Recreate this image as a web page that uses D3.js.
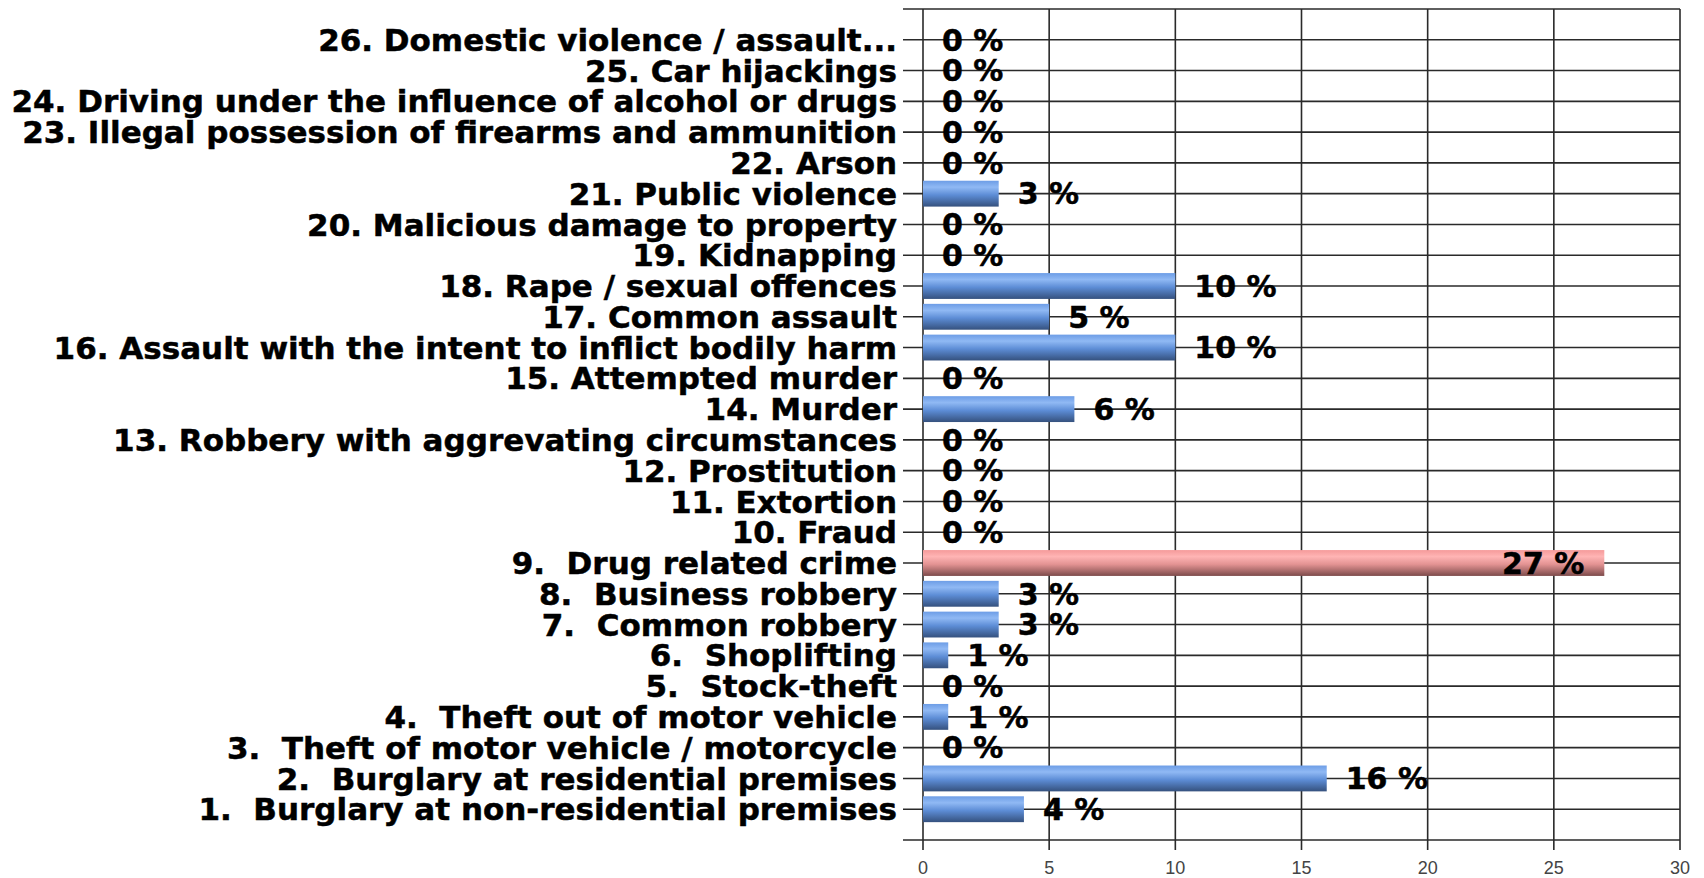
<!DOCTYPE html>
<html>
<head>
  <meta charset="utf-8">
  <title>Crime categories</title>
  <script src="https://d3js.org/d3.v7.min.js" charset="utf-8"></script>
  <style>
    body { margin: 0; background: #fff; }
  </style>
</head>
<body>
<script>
var w = 1704;
var h = 878;

// bottom to top
var categories = [
  "1.  Burglary at non-residential premises",
  "2.  Burglary at residential premises",
  "3.  Theft of motor vehicle / motorcycle",
  "4.  Theft out of motor vehicle",
  "5.  Stock-theft",
  "6.  Shoplifting",
  "7.  Common robbery",
  "8.  Business robbery",
  "9.  Drug related crime",
  "10. Fraud",
  "11. Extortion",
  "12. Prostitution",
  "13. Robbery with aggrevating circumstances",
  "14. Murder",
  "15. Attempted murder",
  "16. Assault with the intent to inflict bodily harm",
  "17. Common assault",
  "18. Rape / sexual offences",
  "19. Kidnapping",
  "20. Malicious damage to property",
  "21. Public violence",
  "22. Arson",
  "23. Illegal possession of firearms and ammunition",
  "24. Driving under the influence of alcohol or drugs",
  "25. Car hijackings",
  "26. Domestic violence / assault..."
];
var values = [4, 16, 0, 1, 0, 1, 3, 3, 27, 0, 0, 0, 0, 6, 0, 10, 5, 10, 0, 0, 3, 0, 0, 0, 0, 0];
var highlight = "9.  Drug related crime";
var xTicks = [0, 5, 10, 15, 20, 25, 30];

var plotL = 923, plotR = 1680, plotT = 9, plotB = 840;

var svg = d3.select("body")
            .append("svg")
            .attr("width", w)
            .attr("height", h);

var x = d3.scaleLinear().domain([0, 30]).range([plotL, plotR]);
var y = d3.scalePoint().domain(categories).range([plotB, plotT]).padding(1);
var barH = y.step() * 0.84;

// gradients
var defs = svg.append("defs");
function grad(id, stops) {
  var g = defs.append("linearGradient").attr("id", id)
    .attr("x1", 0).attr("y1", 0).attr("x2", 0).attr("y2", 1);
  stops.forEach(function (s) {
    g.append("stop").attr("offset", s[0]).attr("stop-color", s[1]);
  });
}
grad("blue", [[0, "#6d9de6"], [0.25, "#90b9f4"], [0.55, "#5d8dd6"], [1, "#35517e"]]);
grad("red", [[0, "#f59a9a"], [0.25, "#ffb4b4"], [0.55, "#e39393"], [1, "#7d4b4b"]]);

var lineColor = "#2a2a2a";

// horizontal grid lines at category centers plus top and bottom
svg.selectAll("line.hgrid")
    .data(categories)
    .enter()
    .append("line")
    .attr("class", "hgrid")
    .attr("x1", plotL - 20).attr("x2", plotR)
    .attr("y1", function (d) { return y(d); })
    .attr("y2", function (d) { return y(d); })
    .attr("stroke", lineColor).attr("stroke-width", 1.6);

svg.selectAll("line.edge")
    .data([plotT, plotB])
    .enter()
    .append("line")
    .attr("class", "edge")
    .attr("x1", plotL - 20).attr("x2", plotR)
    .attr("y1", function (d) { return d; })
    .attr("y2", function (d) { return d; })
    .attr("stroke", lineColor).attr("stroke-width", 1.6);

// vertical grid lines
svg.selectAll("line.vgrid")
    .data(xTicks)
    .enter()
    .append("line")
    .attr("class", "vgrid")
    .attr("x1", function (d) { return x(d); })
    .attr("x2", function (d) { return x(d); })
    .attr("y1", plotT).attr("y2", plotB + 10)
    .attr("stroke", lineColor).attr("stroke-width", 1.6);

// x tick labels
svg.selectAll("text.xt")
    .data(xTicks)
    .enter()
    .append("text")
    .attr("class", "xt")
    .text(function (d) { return d; })
    .attr("x", function (d) { return x(d); })
    .attr("y", 874)
    .attr("text-anchor", "middle")
    .attr("font-family", "'Liberation Sans Narrow', 'Liberation Sans', sans-serif")
    .attr("font-size", 18)
    .attr("fill", "#444");

// bars
svg.selectAll("rect.bar")
    .data(categories)
    .enter()
    .append("rect")
    .attr("class", "bar")
    .attr("x", x(0))
    .attr("y", function (d) { return y(d) - barH / 2; })
    .attr("width", function (d, i) { return x(values[i]) - x(0); })
    .attr("height", barH)
    .attr("fill", function (d) { return d === highlight ? "url(#red)" : "url(#blue)"; });

// category labels
svg.selectAll("text.cat")
    .data(categories)
    .enter()
    .append("text")
    .attr("class", "cat")
    .text(function (d) { return d; })
    .attr("x", 897)
    .attr("y", function (d) { return y(d); })
    .attr("dy", "0.36em")
    .attr("text-anchor", "end")
    .attr("xml:space", "preserve")
    .style("white-space", "pre")
    .attr("font-family", "'DejaVu Sans', sans-serif")
    .attr("font-weight", "bold")
    .attr("font-size", 31)
    .attr("fill", "#000")
    .attr("stroke", "#000")
    .attr("stroke-width", 0.5);

// value labels
svg.selectAll("text.val")
    .data(categories)
    .enter()
    .append("text")
    .attr("class", "val")
    .text(function (d, i) { return values[i] + " %"; })
    .attr("x", function (d, i) {
      return values[i] > 25 ? x(values[i]) - 20 : x(values[i]) + 19;
    })
    .attr("y", function (d) { return y(d); })
    .attr("dy", "0.36em")
    .attr("text-anchor", function (d, i) { return values[i] > 25 ? "end" : "start"; })
    .attr("font-family", "'DejaVu Sans', sans-serif")
    .attr("font-weight", "bold")
    .attr("font-size", 30)
    .attr("fill", "#000")
    .attr("stroke", "#000")
    .attr("stroke-width", 0.5);
</script>
</body>
</html>
